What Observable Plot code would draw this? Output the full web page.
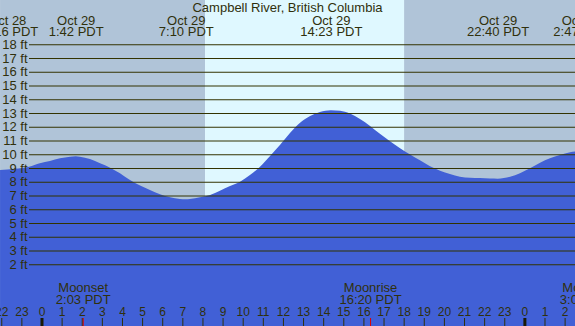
<!DOCTYPE html>
<html><head><meta charset="utf-8">
<script src="https://cdn.jsdelivr.net/npm/d3@7"></script>
<script src="https://cdn.jsdelivr.net/npm/@observablehq/plot@0.6"></script>
<style>
html,body{margin:0;padding:0;background:#fff;}
#wrap{position:relative;width:575px;height:326px;overflow:hidden;}
#title{position:absolute;left:0;top:0;width:575px;text-align:center;font:13px 'Liberation Sans',Arial,sans-serif;color:#30300c;line-height:15px;pointer-events:none;}
</style></head><body>
<div id="wrap"><div id="chart"></div><div id="title">Campbell River, British Columbia</div></div>
<script>
// hours since Oct 29 00:00 PDT, and tide height in feet
const tideHours = [-2.06,-1.32,-0.62,-0.08,0.42,0.92,1.42,1.70,1.91,2.41,2.91,3.41,3.90,4.40,4.90,5.39,5.89,6.39,6.88,7.17,7.38,7.88,8.38,8.87,9.37,9.87,10.36,10.86,11.36,11.85,12.35,12.85,13.35,13.84,14.38,14.84,15.33,15.83,16.33,16.82,17.32,17.82,18.32,18.81,19.31,19.81,20.30,20.80,21.30,21.79,22.29,22.67,23.29,23.78,24.28,24.78,25.27,25.77,26.27,26.52];
const tideFeet  = [8.86,8.95,9.10,9.35,9.51,9.71,9.83,9.86,9.83,9.66,9.35,9.03,8.62,8.13,7.73,7.40,7.09,6.87,6.75,6.73,6.75,6.87,7.04,7.35,7.69,8.01,8.49,9.10,9.88,10.68,11.55,12.29,12.79,13.08,13.21,13.17,12.97,12.57,12.06,11.49,10.95,10.44,9.99,9.56,9.13,8.81,8.57,8.37,8.30,8.27,8.24,8.23,8.37,8.62,8.98,9.39,9.71,9.95,10.15,10.20];

const extremeHours = [-1.73, 1.70, 7.17, 14.38, 22.67, 26.78];
const extremeDates = ["Oct 28","Oct 29","Oct 29","Oct 29","Oct 29","Oct 30"];
const extremeTimes = ["22:16 PDT","1:42 PDT","7:10 PDT","14:23 PDT","22:40 PDT","2:47 PDT"];

const sunriseHour = 8.13;
const sunsetHour = 18.02;

const moonHours = [2.05, 16.33, 27.1];
const moonEvents = ["Moonset","Moonrise","Moonset"];
const moonTimes = ["2:03 PDT","16:20 PDT","3:06 PDT"];

const hourTicks = d3.range(-2, 28);
const feetTicks = d3.range(2, 19);

const tide = tideHours.map((h, i) => ({h, ft: tideFeet[i]}));
const startH = tideHours[0], endH = tideHours[tideHours.length - 1];
const nights = [{a: startH, b: sunriseHour}, {a: sunsetHour, b: endH}];
const days = [{a: sunriseHour, b: sunsetHour}];

const textColor = "#30300c";
const gridColor = "#333300";
const nightColor = "#b0c4d8";
const dayColor = "#dff8ff";
const waterColor = "#4160d6";
const yMin = -2.487, yMax = 21.222;

const txt = {fill: textColor, lineAnchor: "middle"};

const chart = Plot.plot({
  width: 575, height: 326,
  marginLeft: 29, marginRight: 0, marginTop: 0, marginBottom: 0,
  x: {domain: [-0.621, 26.516], axis: null},
  y: {domain: [yMin, yMax], axis: null},
  style: {background: "none", fontFamily: "'Liberation Sans', Arial, sans-serif", fontSize: "13px", color: textColor, overflow: "hidden"},
  marks: [
    Plot.rect(nights, {x1: "a", x2: "b", fill: nightColor}),
    Plot.rect(days, {x1: "a", x2: "b", fill: dayColor}),
    Plot.areaY(tide, {x: "h", y1: yMin, y2: "ft", fill: waterColor, curve: "monotone-x"}),
    Plot.ruleY(feetTicks, {y: d => d, stroke: gridColor, strokeWidth: 1.1}),
    Plot.axisY(feetTicks, {tickSize: 0, tickPadding: 2, tickFormat: d => `${d} ft`, label: null, fontSize: 13, fill: textColor}),
    Plot.text(extremeHours, {x: d => d, text: (d, i) => extremeDates[i], frameAnchor: "top", dy: 20, fontSize: 13, ...txt}),
    Plot.text(extremeHours, {x: d => d, text: (d, i) => extremeTimes[i], frameAnchor: "top", dy: 31.7, fontSize: 13, ...txt}),
    Plot.text(moonHours, {x: d => d, text: (d, i) => moonEvents[i], frameAnchor: "bottom", dy: -39, fontSize: 13, ...txt}),
    Plot.text(moonHours, {x: d => d, text: (d, i) => moonTimes[i], frameAnchor: "bottom", dy: -26.7, fontSize: 13, ...txt}),
    Plot.text(hourTicks, {x: d => d, text: d => String(((d % 24) + 24) % 24), frameAnchor: "bottom", dy: -14, fontSize: 12, ...txt}),
    Plot.tickX(hourTicks.filter(d => d % 24 !== 0), {x: d => d, stroke: textColor, strokeWidth: 1, insetTop: 318}),
    Plot.tickX(hourTicks.filter(d => d % 24 === 0), {x: d => d, stroke: "#1a1a05", strokeWidth: 3, insetTop: 318}),
    Plot.tickX(moonHours, {x: d => d, stroke: "#e00000", strokeWidth: 1, insetTop: 318})
  ]
});
document.getElementById("chart").appendChild(chart);
</script>
</body></html>
